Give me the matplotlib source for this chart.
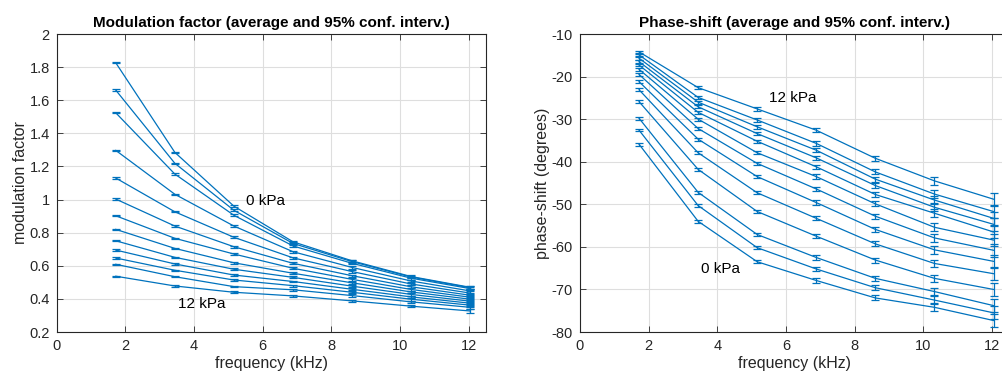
import matplotlib
matplotlib.use("Agg")
import matplotlib.pyplot as plt
import numpy as np

plt.rcParams['font.family'] = ['Liberation Sans', 'DejaVu Sans']
plt.rcParams['axes.unicode_minus'] = False

# ---------------- data ----------------
freq_khz = [1.72, 3.44, 5.16, 6.88, 8.60, 10.32, 12.04]
pressure_kpa = list(range(13))  # 0 .. 12 kPa

# modulation factor, rows = pressure 0..12 kPa, columns = frequency
mod_f1 = [1.826, 1.661, 1.524, 1.297, 1.130, 1.003, 0.902, 0.820, 0.751, 0.695, 0.647, 0.609, 0.537]
mod_f2 = [1.285, 1.219, 1.154, 1.032, 0.926, 0.840, 0.766, 0.705, 0.651, 0.611, 0.573, 0.534, 0.478]
mod_f3 = [0.960, 0.935, 0.905, 0.840, 0.772, 0.715, 0.671, 0.618, 0.579, 0.544, 0.514, 0.474, 0.440]
mod_f4 = [0.745, 0.735, 0.720, 0.685, 0.648, 0.615, 0.585, 0.555, 0.530, 0.505, 0.480, 0.455, 0.418]
mod_f5 = [0.630, 0.625, 0.615, 0.590, 0.565, 0.540, 0.518, 0.497, 0.477, 0.458, 0.440, 0.420, 0.388]
mod_f6 = [0.535, 0.532, 0.525, 0.508, 0.490, 0.473, 0.457, 0.442, 0.427, 0.412, 0.398, 0.382, 0.356]
mod_f7 = [0.470, 0.467, 0.462, 0.448, 0.435, 0.422, 0.410, 0.398, 0.386, 0.374, 0.362, 0.349, 0.327]
mod_ci = [0.004, 0.004, 0.005, 0.006, 0.007, 0.008, 0.010]

# phase shift (degrees), rows = pressure 0..12 kPa
ph_f1 = [-35.9, -32.6, -29.8, -25.9, -23.1, -21.2, -19.5, -18.3, -17.3, -16.5, -15.7, -14.9, -14.2]
ph_f2 = [-54.0, -50.3, -47.2, -41.8, -37.9, -34.7, -32.2, -30.0, -28.4, -27.1, -26.0, -24.9, -22.6]
ph_f3 = [-63.5, -60.2, -57.1, -51.7, -47.3, -43.5, -40.4, -37.9, -35.2, -33.4, -31.8, -30.2, -27.6]
ph_f4 = [-67.9, -65.2, -62.5, -57.5, -53.3, -49.6, -46.4, -43.5, -41.2, -39.1, -37.3, -35.7, -32.6]
ph_f5 = [-72.0, -69.6, -67.4, -63.1, -59.3, -55.9, -52.8, -49.9, -47.7, -45.6, -44.1, -42.4, -39.2]
ph_f6 = [-74.2, -72.5, -70.5, -67.4, -63.9, -60.7, -57.9, -55.4, -52.1, -50.7, -49.0, -47.6, -44.5]
ph_f7 = [-77.3, -75.5, -73.8, -70.0, -66.3, -63.4, -60.8, -58.4, -56.5, -54.7, -53.3, -51.7, -48.8]
ph_ci = [0.3, 0.35, 0.4, 0.5, 0.6, 0.9, 1.5]

# ---------------- plotting ----------------
BLUE = '#0072BD'
GRID = '#dedede'
AX = '#262626'

mod = np.array([mod_f1, mod_f2, mod_f3, mod_f4, mod_f5, mod_f6, mod_f7]).T
ph = np.array([ph_f1, ph_f2, ph_f3, ph_f4, ph_f5, ph_f6, ph_f7]).T

fig = plt.figure(figsize=(10.02, 3.76), dpi=100)
W, H = 1002.0, 376.0
ax1 = fig.add_axes([56.7 / W, 44 / H, 429.3 / W, 298 / H])
ax2 = fig.add_axes([580 / W, 44 / H, 429.3 / W, 298 / H])


def style(ax):
    ax.set_xlim(0, 12.5)
    ax.set_xticks([0, 2, 4, 6, 8, 10, 12])
    ax.grid(True, color=GRID, linewidth=0.8)
    ax.set_axisbelow(True)
    for s in ax.spines.values():
        s.set_color(AX)
        s.set_linewidth(0.8)
    ax.tick_params(direction='in', length=4, width=0.6, color=AX,
                   top=True, right=True, labelsize=10.5, labelcolor=AX, pad=5)


for i in range(len(pressure_kpa)):
    ax1.errorbar(freq_khz, mod[i], yerr=mod_ci, color=BLUE, lw=0.9,
                 elinewidth=0.9, capsize=3, capthick=0.9)
    ax2.errorbar(freq_khz, ph[i], yerr=ph_ci, color=BLUE, lw=0.9,
                 elinewidth=0.9, capsize=3, capthick=0.9)

style(ax1)
ax1.set_ylim(0.2, 2)
ax1.set_yticks([0.2, 0.4, 0.6, 0.8, 1.0, 1.2, 1.4, 1.6, 1.8, 2.0])
ax1.set_yticklabels(['0.2', '0.4', '0.6', '0.8', '1', '1.2', '1.4', '1.6', '1.8', '2'])
ax1.set_xlabel('frequency (kHz)', fontsize=11.5, color=AX, labelpad=2)
ax1.set_ylabel('modulation factor', fontsize=11.5, color=AX, labelpad=1)
ax1.set_title('Modulation factor (average and 95% conf. interv.)',
              fontsize=11, fontweight='bold', pad=5)
ax1.text(5.5, 0.99, '0 kPa', fontsize=11, va='center', ha='left')
ax1.text(3.52, 0.37, '12 kPa', fontsize=11, va='center', ha='left')

style(ax2)
ax2.set_ylim(-80, -10)
ax2.set_yticks(list(range(-80, -9, 10)))
ax2.set_xlabel('frequency (kHz)', fontsize=11.5, color=AX, labelpad=2)
ax2.set_ylabel('phase-shift (degrees)', fontsize=11.5, color=AX, labelpad=1)
ax2.set_title('Phase-shift (average and 95% conf. interv.)',
              fontsize=11, fontweight='bold', pad=5)
ax2.text(5.49, -25.0, '12 kPa', fontsize=11, va='center', ha='left')
ax2.text(3.53, -65.3, '0 kPa', fontsize=11, va='center', ha='left')

fig.savefig('out.png', dpi=100)
